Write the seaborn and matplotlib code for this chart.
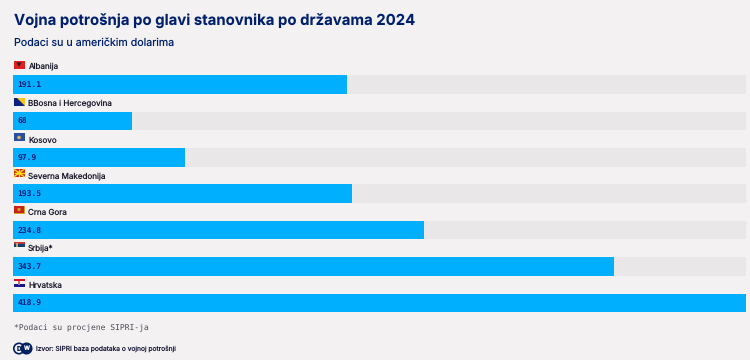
import matplotlib
matplotlib.use('Agg')
import matplotlib.pyplot as plt
from matplotlib.patches import Rectangle, Polygon, Circle
import seaborn as sns
import pandas as pd

countries = ['Albanija', 'BBosna i Hercegovina', 'Kosovo', 'Severna Makedonija',
             'Crna Gora', 'Srbija*', 'Hrvatska']
values = [191.1, 68, 97.9, 193.5, 234.8, 343.7, 418.9]
value_labels = ['191.1', '68', '97.9', '193.5', '234.8', '343.7', '418.9']
max_value = 418.9

title = 'Vojna potrošnja po glavi stanovnika po državama 2024'
subtitle = 'Podaci su u američkim dolarima'
footnote = '*Podaci su procjene SIPRI-ja'
source = 'Izvor: SIPRI baza podataka o vojnoj potrošnji'

BG = '#f3f1f2'
TRACK = '#e9e7e8'
BLUE = '#00b0ff'
NAVY = '#00207a'
TITLE_NAVY = '#00206e'

sns.set_theme(style='white')
plt.rcParams['font.family'] = ['Inter', 'DejaVu Sans']
plt.rcParams['text.hinting'] = 'no_hinting'
plt.rcParams['text.hinting_factor'] = 1

df = pd.DataFrame({'country': countries, 'value': values, 'track': [max_value] * len(values)})

fig = plt.figure(figsize=(7.5, 3.6), dpi=100, facecolor=BG)
W, H = 750, 360
top, bottom = 66.3, 321.1
left, right = 13.5, 745.5
ax = fig.add_axes([left / W, 1 - bottom / H, (right - left) / W, (bottom - top) / H])
ax.set_facecolor('none')

sns.barplot(data=df, y='country', x='track', color=TRACK, saturation=1, width=0.508,
            edgecolor='none', linewidth=0, ax=ax)
sns.barplot(data=df, y='country', x='value', color=BLUE, saturation=1, width=0.508,
            edgecolor='none', linewidth=0, ax=ax)
ax.set_xlim(0, max_value)
ax.set_ylim(len(values) - 0.5, -0.5)
ax.axis('off')

for i, (name, lab) in enumerate(zip(countries, value_labels)):
    ax.text(4 / 732 * max_value, i + 0.03, lab, va='center', ha='left', fontsize=5.8, color=NAVY,
            family='DejaVu Sans Mono', fontweight='bold')
    ax.text(14.5 / 732 * max_value, i - 0.47, name, va='center', ha='left', fontsize=5.8,
            color='#1a1a2a', clip_on=False)

# overlay in pixel coordinates for text and flags
ov = fig.add_axes([0, 0, 1, 1])
ov.set_xlim(0, W)
ov.set_ylim(H, 0)
ov.axis('off')

ov.text(13.5, 20.5, title, fontsize=10.75, fontweight='bold', color=TITLE_NAVY, va='center')
ov.text(13.5, 42.5, subtitle, fontsize=7.7, color=TITLE_NAVY, va='center')
ov.text(13.5, 327.5, footnote, fontsize=5.6, color='#4a4a55', va='center', family='DejaVu Sans Mono')
ov.text(36, 348.5, source, fontsize=4.8, color='#1a1a3a', va='center')

# DW logo
ov.add_patch(Circle((19, 348.5), 5.2, fc=BG, ec='#002060', lw=1.2))
ov.add_patch(Circle((26.5, 348.5), 5.2, fc='#002060', ec='#002060', lw=1.2))
ov.text(19, 348.7, 'D', fontsize=4.6, fontweight='bold', color='#002060', ha='center', va='center')
ov.text(26.5, 348.7, 'W', fontsize=4.2, fontweight='bold', color='white', ha='center', va='center')


def flag_box(y):
    return 13.5, y, 11, 8


def stripes(y, cols):
    x, y0, w, h = flag_box(y)
    for k, c in enumerate(cols):
        ov.add_patch(Rectangle((x, y0 + k * h / len(cols)), w, h / len(cols), fc=c, lw=0))


flag_y = [60.5, 97.5, 133, 169, 205.5, 241.5, 278.5]

# Albanija
x, y0, w, h = flag_box(flag_y[0])
ov.add_patch(Rectangle((x, y0), w, h, fc='#e41e20', lw=0))
ov.add_patch(Polygon([(x + 3, y0 + 2), (x + 8, y0 + 2), (x + 5.5, y0 + 6.5)], fc='#202020', lw=0))
# Bosna
x, y0, w, h = flag_box(flag_y[1])
ov.add_patch(Rectangle((x, y0), w, h, fc='#0b1f7f', lw=0))
ov.add_patch(Polygon([(x + 3, y0), (x + 11, y0), (x + 11, y0 + 8)], fc='#f5c518', lw=0))
# Kosovo
x, y0, w, h = flag_box(flag_y[2])
ov.add_patch(Rectangle((x, y0), w, h, fc='#2a4fa0', lw=0))
ov.add_patch(Circle((x + 5.5, y0 + 4.5), 1.8, fc='#d8b45a', lw=0))
# Makedonija
x, y0, w, h = flag_box(flag_y[3])
ov.add_patch(Rectangle((x, y0), w, h, fc='#d8201c', lw=0))
cx, cy = x + w / 2, y0 + h / 2
for p in [(x, y0), (x + w / 2, y0), (x + w, y0), (x, y0 + h / 2), (x + w, y0 + h / 2),
          (x, y0 + h), (x + w / 2, y0 + h), (x + w, y0 + h)]:
    ov.plot([cx, p[0]], [cy, p[1]], color='#f8e020', lw=1, solid_capstyle='butt')
ov.add_patch(Circle((cx, cy), 1.5, fc='#f8e020', lw=0))
# Crna Gora
x, y0, w, h = flag_box(flag_y[4])
ov.add_patch(Rectangle((x, y0), w, h, fc='#d3a420', lw=0))
ov.add_patch(Rectangle((x + 0.7, y0 + 0.7), w - 1.4, h - 1.4, fc='#c8201c', lw=0))
ov.add_patch(Circle((x + 5.5, y0 + 4), 1.7, fc='#c9a030', lw=0))
# Srbija
stripes(flag_y[5], ['#c6363c', '#0c4076', '#f5f5f5'])
x, y0, w, h = flag_box(flag_y[5])
ov.add_patch(Rectangle((x + 2.5, y0 + 1.5), 2, 4, fc='#c6a060', lw=0))
# Hrvatska
stripes(flag_y[6], ['#e01020', '#f5f5f5', '#171796'])
x, y0, w, h = flag_box(flag_y[6])
ov.add_patch(Rectangle((x + 4.2, y0 + 2), 2.6, 4, fc='#d87070', lw=0))

fig.savefig('out.png', dpi=100, facecolor=BG)
plt.close()
